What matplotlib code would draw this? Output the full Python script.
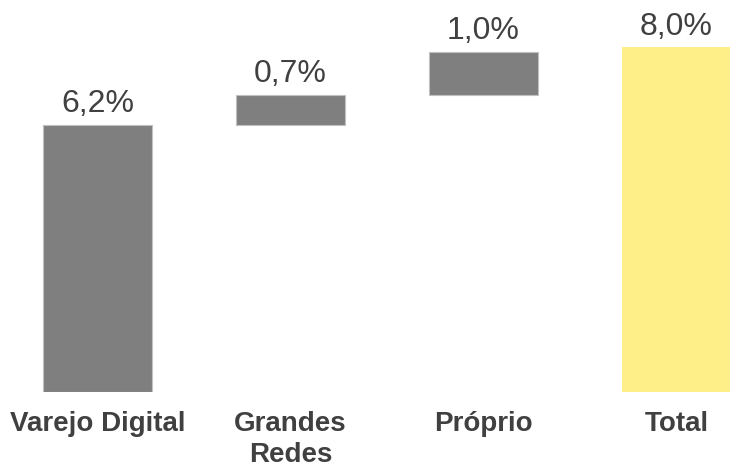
import numpy as np
import matplotlib.pyplot as plt

plt.rcParams['font.family'] = ['Liberation Sans', 'DejaVu Sans']

categories = ["Varejo Digital", "Grandes\nRedes", "Próprio", "Total"]
steps = [6.2, 0.7, 1.0]
total = 8.0
labels = ["6,2%", "0,7%", "1,0%", "8,0%"]

GRAY = "#7f7f7f"
YELLOW = "#ffef88"
TXT = "#404040"

# waterfall: each step starts where the previous one ended
bottoms = np.concatenate([[0], np.cumsum(steps)[:-1]])
heights = np.array(steps)

fig = plt.figure(figsize=(7.3, 4.68), dpi=100)
ax = fig.add_axes([0, 76 / 468, 1, 392 / 468])

x = np.arange(len(categories))
w = 0.565
ax.bar(x[:3], heights, bottom=bottoms, width=w, color=GRAY,
       edgecolor="#c0c0c0", linewidth=0.8)
ax.bar(x[3], total, width=w, color=YELLOW, edgecolor="none")

tops = list(bottoms + heights) + [total]
for xi, top, lab in zip(x, tops, labels):
    ax.annotate(lab, (xi, top), xytext=(0, 9), textcoords="offset points",
                ha="center", va="baseline", fontsize=23, color=TXT)

for xi, cat in zip(x, categories):
    ax.text(xi, -0.44, cat, ha="center", va="top", fontsize=20,
            fontweight="bold", color=TXT, linespacing=1.25)

ax.set_xlim(-0.505, 3.277)
ax.set_ylim(0, 9.10)
ax.axis("off")

fig.savefig("out.png", dpi=100)
